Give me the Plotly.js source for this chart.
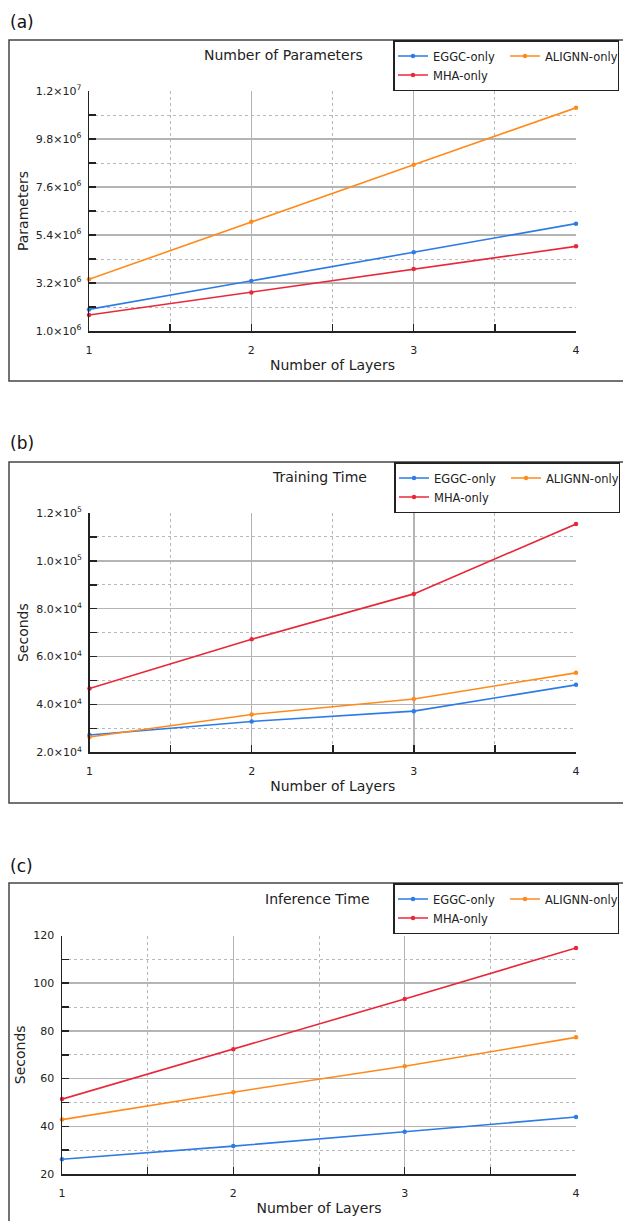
<!DOCTYPE html>
<html>
<head>
<meta charset="utf-8">
<script src="https://cdn.plot.ly/plotly-3.0.1.min.js"></script>
<style>html,body{margin:0;padding:0;background:#fff;overflow:hidden;}#chart{width:623px;height:1221px;}</style>
</head>
<body>
<div id="chart"></div>
<script>
// ---- data ----
const layers = [1, 2, 3, 4];
const seriesNames = ['EGGC-only', 'ALIGNN-only', 'MHA-only'];
const seriesColors = ['#2d7be6', '#ff8a1a', '#e8283a'];
const seriesGroups = ['g1', 'g2', 'g1'];

const paramsEGGC   = [1.99e6, 3.29e6, 4.61e6, 5.92e6];
const paramsALIGNN = [3.37e6, 6.01e6, 8.62e6, 11.23e6];
const paramsMHA    = [1.73e6, 2.77e6, 3.84e6, 4.88e6];

const trainEGGC   = [2.72e4, 3.29e4, 3.72e4, 4.82e4];
const trainALIGNN = [2.64e4, 3.58e4, 4.23e4, 5.32e4];
const trainMHA    = [4.67e4, 6.72e4, 8.62e4, 11.54e4];

const inferEGGC   = [26.2, 31.7, 37.7, 43.9];
const inferALIGNN = [42.8, 54.3, 65.2, 77.3];
const inferMHA    = [51.4, 72.3, 93.4, 114.8];

const paramTickVals = [1.0e6, 3.2e6, 5.4e6, 7.6e6, 9.8e6, 1.2e7];
const paramTickText = ['1.0×10<sup>6</sup>', '3.2×10<sup>6</sup>', '5.4×10<sup>6</sup>', '7.6×10<sup>6</sup>', '9.8×10<sup>6</sup>', '1.2×10<sup>7</sup>'];
const paramMinorVals = [2.1e6, 4.3e6, 6.5e6, 8.7e6, 10.9e6];

const trainTickVals = [2e4, 4e4, 6e4, 8e4, 1e5, 1.2e5];
const trainTickText = ['2.0×10<sup>4</sup>', '4.0×10<sup>4</sup>', '6.0×10<sup>4</sup>', '8.0×10<sup>4</sup>', '1.0×10<sup>5</sup>', '1.2×10<sup>5</sup>'];
const trainMinorVals = [3e4, 5e4, 7e4, 9e4, 1.1e5];

const inferTickVals = [20, 40, 60, 80, 100, 120];
const inferTickText = ['20', '40', '60', '80', '100', '120'];
const inferMinorVals = [30, 50, 70, 90, 110];

const panelTitles = ['Number of Parameters', 'Training Time', 'Inference Time'];
const panelLabels = ['(a)', '(b)', '(c)'];
const yTitles = ['Parameters', 'Seconds', 'Seconds'];
const xTitle = 'Number of Layers';

// ---- geometry ----
const W = 623, H = 1221;
const px = v => v / W;
const py = v => 1 - v / H;
const FONT = 'DejaVu Sans, Verdana, sans-serif';

const panels = [
  {series: [paramsEGGC, paramsALIGNN, paramsMHA], tv: paramTickVals, tt: paramTickText, mv: paramMinorVals,
   range: [1.0e6, 1.2e7], xd: [89, 576], yd: [91, 331], frame: [40, 381], lab: 22, title: [283, 55], legX: 393},
  {series: [trainEGGC, trainALIGNN, trainMHA], tv: trainTickVals, tt: trainTickText, mv: trainMinorVals,
   range: [2e4, 1.2e5], xd: [89.5, 576], yd: [513, 752.3], frame: [462, 803], lab: 443, title: [320, 477], legX: 394},
  {series: [inferEGGC, inferALIGNN, inferMHA], tv: inferTickVals, tt: inferTickText, mv: inferMinorVals,
   range: [20, 120], xd: [62, 576], yd: [935.5, 1174], frame: [883, 1240], lab: 866, title: [317, 899], legX: 393}
];

const traces = [];
const layout = {
  width: W, height: H,
  margin: {l: 0, r: 0, t: 0, b: 0, pad: 0, autoexpand: false},
  paper_bgcolor: '#fff', plot_bgcolor: '#fff',
  font: {family: FONT, color: '#222'},
  showlegend: true,
  shapes: [], annotations: []
};

panels.forEach((p, i) => {
  const sfx = i === 0 ? '' : String(i + 1);
  const legName = i === 0 ? 'legend' : 'legend' + (i + 1);
  p.series.forEach((vals, k) => {
    traces.push({
      type: 'scatter', mode: 'lines+markers',
      x: layers, y: vals, name: seriesNames[k],
      xaxis: 'x' + sfx, yaxis: 'y' + sfx,
      legend: legName, legendgroup: seriesGroups[k] + '_' + i,
      line: {color: seriesColors[k], width: 1.6},
      marker: {color: seriesColors[k], size: 4.5},
      cliponaxis: false
    });
  });
  const gridMajor = '#b4b4b4';
  layout['xaxis' + sfx] = {
    domain: [px(p.xd[0]), px(p.xd[1])],
    anchor: 'y' + sfx,
    range: [1, 4], tickmode: 'array', tickvals: layers, ticktext: layers.map(String),
    showgrid: true, gridcolor: gridMajor, gridwidth: 1.5,
    zeroline: false, showline: true, linecolor: '#222', linewidth: 1.5,
    ticks: 'inside', ticklen: 7, tickwidth: 1.5, tickcolor: '#222',
    ticklabelstandoff: 8,
    tickfont: {size: 11, family: FONT, color: '#222'},
    minor: {tickvals: [1.5, 2.5, 3.5], showgrid: true, gridcolor: '#b8b8b8', griddash: 'dot', gridwidth: 1,
            ticks: 'inside', ticklen: 7, tickwidth: 1.5, tickcolor: '#222'},
    title: {text: xTitle, font: {size: 14, family: FONT, color: '#222'}, standoff: 4},
    fixedrange: true
  };
  layout['yaxis' + sfx] = {
    domain: [py(p.yd[1]), py(p.yd[0])],
    anchor: 'x' + sfx,
    range: p.range, tickmode: 'array', tickvals: p.tv, ticktext: p.tt,
    showgrid: true, gridcolor: gridMajor, gridwidth: 1.5,
    zeroline: false, showline: true, linecolor: '#222', linewidth: 1.5,
    ticks: 'inside', ticklen: 7, tickwidth: 1.5, tickcolor: '#222',
    ticklabelstandoff: 4,
    tickfont: {size: 11, family: FONT, color: '#222'},
    minor: {tickvals: p.mv, showgrid: true, gridcolor: '#b8b8b8', griddash: 'dot', gridwidth: 1,
            ticks: 'inside', ticklen: 7, tickwidth: 1.5, tickcolor: '#222'},
    title: {text: yTitles[i], font: {size: 14, family: FONT, color: '#222'}, standoff: 4},
    fixedrange: true
  };
  layout[legName] = {
    x: px(p.legX), y: py(p.frame[0]), xanchor: 'left', yanchor: 'top',
    orientation: 'h', entrywidth: 67, entrywidthmode: 'pixels',
    bordercolor: '#222', borderwidth: 1.5, bgcolor: '#fff',
    font: {size: 11.5, family: FONT, color: '#222'},
    itemwidth: 30, tracegroupgap: 0, traceorder: 'grouped'
  };
  layout.shapes.push({
    type: 'rect', xref: 'paper', yref: 'paper', layer: 'below',
    x0: px(9), x1: px(640), y0: py(p.frame[1]), y1: py(p.frame[0]),
    line: {color: '#444', width: 1.5}, fillcolor: 'rgba(0,0,0,0)'
  });
  layout.annotations.push({
    xref: 'paper', yref: 'paper', x: px(8), y: py(p.lab), xanchor: 'left', yanchor: 'middle',
    text: panelLabels[i], showarrow: false, font: {size: 17, family: FONT, color: '#111'}
  });
  layout.annotations.push({
    xref: 'paper', yref: 'paper', x: px(p.title[0]), y: py(p.title[1]), xanchor: 'center', yanchor: 'middle',
    text: panelTitles[i], showarrow: false, font: {size: 14, family: FONT, color: '#222'}
  });
});

Plotly.newPlot('chart', traces, layout, {staticPlot: true, displayModeBar: false});
</script>
</body>
</html>
